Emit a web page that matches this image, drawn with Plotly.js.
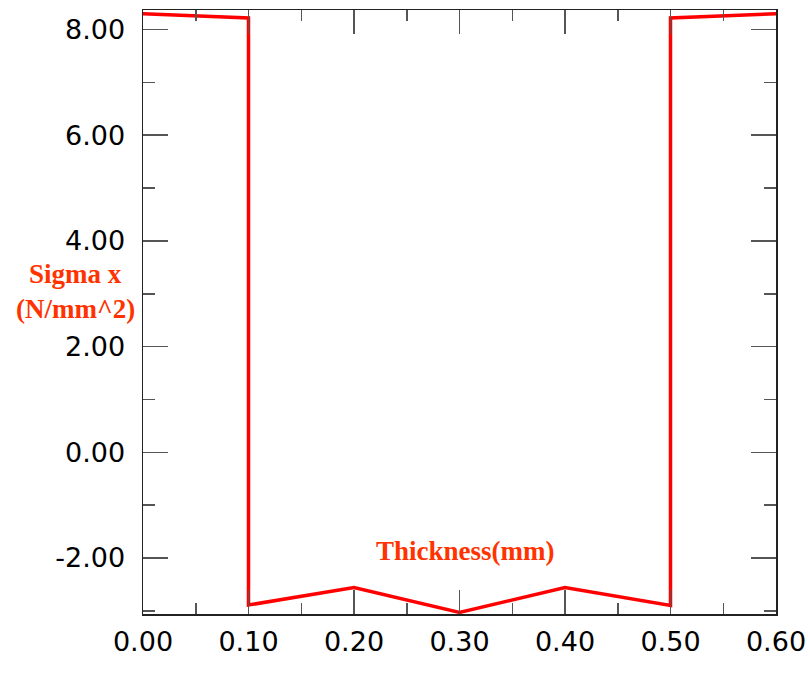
<!DOCTYPE html>
<html>
<head>
<meta charset="utf-8">
<script src="https://cdn.plot.ly/plotly-3.0.1.min.js"></script>
<style>html,body{margin:0;padding:0;background:#fff;}</style>
</head>
<body>
<div id="chart" style="width:810px;height:673px;"></div>
<script>
const thickness = [0.0, 0.1, 0.1, 0.2, 0.3, 0.4, 0.5, 0.5, 0.6];
const sigmaX = [8.30, 8.22, -2.89, -2.56, -3.03, -2.56, -2.90, 8.22, 8.30];
const xTickVals = [0, 0.1, 0.2, 0.3, 0.4, 0.5, 0.6];
const xTickText = ["0.00", "0.10", "0.20", "0.30", "0.40", "0.50", "0.60"];
const yTickVals = [-2, 0, 2, 4, 6, 8];
const yTickText = ["-2.00", "0.00", "2.00", "4.00", "6.00", "8.00"];
const yTitleLine1 = "Sigma x";
const yTitleLine2 = "(N/mm^2)";
const xTitle = "Thickness(mm)";

const axisCommon = {
  showgrid: false, zeroline: false, showline: true, linecolor: '#222', linewidth: 1.5,
  mirror: 'ticks', ticks: 'inside', tickcolor: '#555', tickwidth: 1.5,
  tickmode: 'array', tickfont: {family: 'DejaVu Sans', size: 27, color: '#000'}
};
const titleFont = {family: 'Liberation Serif', size: 27, color: '#ff3300', weight: 'bold'};

const layout = {
  width: 810, height: 673,
  margin: {l: 143, r: 34, t: 10, b: 59},
  paper_bgcolor: '#fff', plot_bgcolor: '#fff',
  showlegend: false,
  xaxis: Object.assign({}, axisCommon, {
    range: [0, 0.6], tickvals: xTickVals, ticktext: xTickText, ticklen: 24, ticklabelstandoff: 3,
    minor: {dtick: 0.05, tick0: 0, ticklen: 11, ticks: 'inside', tickcolor: '#555', tickwidth: 1.5}
  }),
  yaxis: Object.assign({}, axisCommon, {
    range: [-3.06, 8.37], tickvals: yTickVals, ticktext: yTickText, ticklen: 25, ticklabelstandoff: 11,
    minor: {dtick: 1, tick0: 0, ticklen: 12, ticks: 'inside', tickcolor: '#555', tickwidth: 1.5}
  }),
  annotations: [
    {text: yTitleLine1, xref: 'paper', yref: 'paper', x: -0.106, y: (614 - 274) / 604, xanchor: 'center', yanchor: 'middle',
     showarrow: false, font: titleFont},
    {text: yTitleLine2, xref: 'paper', yref: 'paper', x: -0.106, y: (614 - 309) / 604, xanchor: 'center', yanchor: 'middle',
     showarrow: false, font: titleFont},
    {text: xTitle, xref: 'paper', yref: 'paper', x: 0.509, y: (614 - 551) / 604, xanchor: 'center', yanchor: 'middle',
     showarrow: false, font: titleFont}
  ]
};

Plotly.newPlot('chart', [{
  x: thickness, y: sigmaX, type: 'scatter', mode: 'lines',
  line: {color: '#ff0000', width: 3.5}, cliponaxis: false
}], layout, {displayModeBar: false, staticPlot: true});
</script>
</body>
</html>
